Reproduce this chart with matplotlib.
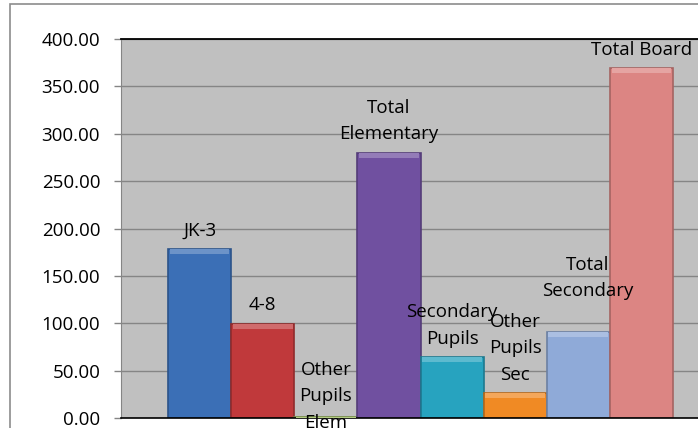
import matplotlib.pyplot as plt
from matplotlib.patches import Rectangle
from matplotlib.colors import to_rgb

plt.rcParams["font.family"] = ["Open Sans", "DejaVu Sans"]

# Data (one category, eight series)
series = ["JK-3", "4-8", "Other\nPupils\nElem", "Total\nElementary",
          "Secondary\nPupils", "Other\nPupils\nSec", "Total\nSecondary", "Total Board"]
values = [178.0, 99.0, 1.5, 279.5, 64.0, 26.0, 90.5, 369.0]
colors = ["#3b6fb6", "#c0393b", "#9bbb59", "#7050a0",
          "#27a3bf", "#f08a24", "#8faad8", "#dc8583"]

# label nudges (points) where the labels were moved by hand
label_dx = [0, 0, 0, 0, 0, 0, 7, 0]
label_dy = [0, 0, -18, 0, 0, 0, 16, 0]

yticks = [0, 50, 100, 150, 200, 250, 300, 350, 400]


def shade(c, f):
    r, g, b = to_rgb(c)
    if f < 1:
        return (r * f, g * f, b * f)
    return (r + (1 - r) * (f - 1), g + (1 - g) * (f - 1), b + (1 - b) * (f - 1))


fig = plt.figure(figsize=(6.98, 4.28), dpi=100)
ax = fig.add_axes([121 / 698, 10 / 428, 599 / 698, 379 / 428])
ax.set_facecolor("#c0c0c0")

n = len(values)
xs = [i - (n - 1) / 2 for i in range(n)]

ax.set_axisbelow(True)
ax.yaxis.grid(True, color="#858585", linewidth=1)

for x, v, c in zip(xs, values, colors):
    ax.bar(x, v, width=1.0, color=c, edgecolor=shade(c, 0.75), linewidth=1.2, zorder=2)
    # bevel highlight at the top of each bar
    h = min(5, v)
    ax.bar(x, h, width=0.94, bottom=v - h, color=shade(c, 1.25), linewidth=0, zorder=3)

for x, v, s, dx, dy in zip(xs, values, series, label_dx, label_dy):
    ax.annotate(s, (x, v), xytext=(dx, 7.0 + dy), textcoords="offset points",
                ha="center", va="bottom", fontsize=13.5, linespacing=1.6,
                annotation_clip=False, zorder=5)

ax.set_xlim(-4.75, 4.75)
ax.set_ylim(0, 400)
ax.set_yticks(yticks)
ax.set_yticklabels([f"{t:.2f}" for t in yticks])
ax.set_xticks([])
ax.tick_params(axis="y", length=5, width=1, color="#858585", pad=10, labelsize=13.5)

ax.spines["top"].set_color("black")
ax.spines["top"].set_linewidth(1.3)
ax.spines["bottom"].set_color("black")
ax.spines["bottom"].set_linewidth(1.2)
ax.spines["left"].set_color("#858585")
ax.spines["right"].set_visible(False)

# outer chart border
fig.add_artist(Rectangle((10 / 698, -0.2), 1.2, 1.2 - 4 / 428, transform=fig.transFigure,
                         fill=False, edgecolor="#8c8c8c", linewidth=1.2))

fig.savefig("out.png", dpi=100)
